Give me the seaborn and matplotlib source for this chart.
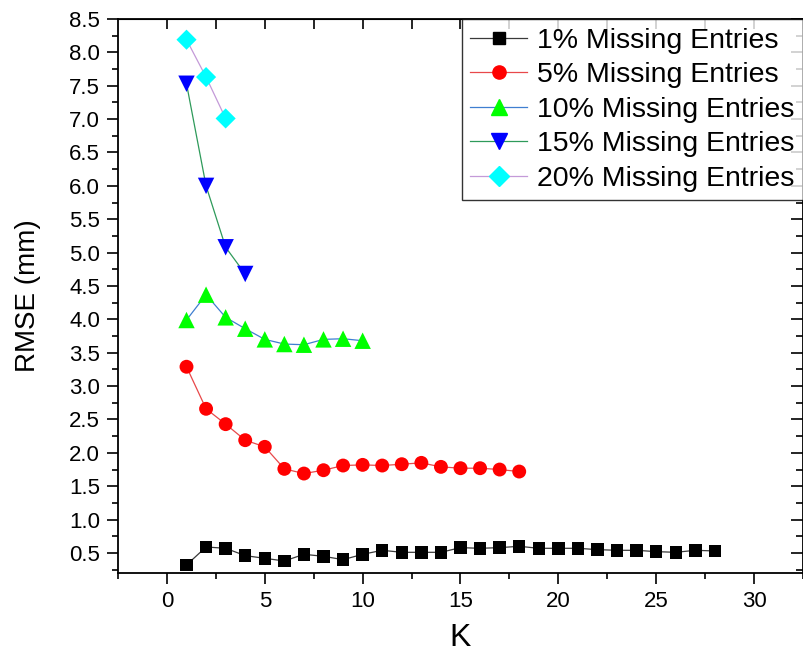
import numpy as np
import pandas as pd
import matplotlib
matplotlib.use("Agg")
import matplotlib.pyplot as plt
from matplotlib.lines import Line2D
import seaborn as sns

# values
k1 = list(range(1, 29))
rmse1 = [0.32, 0.59, 0.57, 0.46, 0.42, 0.38, 0.48, 0.45, 0.40, 0.48, 0.54, 0.51, 0.51, 0.51,
         0.58, 0.57, 0.58, 0.60, 0.57, 0.57, 0.57, 0.55, 0.54, 0.54, 0.52, 0.51, 0.54, 0.53]
k5 = list(range(1, 19))
rmse5 = [3.29, 2.66, 2.43, 2.19, 2.09, 1.76, 1.69, 1.74, 1.81, 1.82, 1.81, 1.83, 1.85, 1.79,
         1.77, 1.77, 1.75, 1.72]
k10 = list(range(1, 11))
rmse10 = [3.99, 4.37, 4.03, 3.86, 3.70, 3.63, 3.62, 3.70, 3.71, 3.68]
k15 = [1, 2, 3, 4]
rmse15 = [7.53, 6.00, 5.08, 4.68]
k20 = [1, 2, 3]
rmse20 = [8.19, 7.63, 7.01]

labels = ["1% Missing Entries", "5% Missing Entries", "10% Missing Entries",
          "15% Missing Entries", "20% Missing Entries"]
line_colors = ["#3a3a3a", "#e8484a", "#3f7fd0", "#2e9a5a", "#c49ad8"]
marker_colors = ["#000000", "#ff0000", "#00ff00", "#0000ff", "#00ffff"]
markers = ["s", "o", "^", "v", "D"]
sizes = [80, 100, 140, 140, 105]

frames = []
for lab, ks, vals in zip(labels, [k1, k5, k10, k15, k20], [rmse1, rmse5, rmse10, rmse15, rmse20]):
    frames.append(pd.DataFrame({"K": ks, "RMSE": vals, "series": lab}))
df = pd.concat(frames, ignore_index=True)

plt.rcParams["font.family"] = ["Liberation Sans", "DejaVu Sans"]

fig = plt.figure(figsize=(8.04, 6.56), dpi=100)
ax = fig.add_axes([118 / 804, 1 - 573 / 656, 685 / 804, 554 / 656])

sns.lineplot(data=df, x="K", y="RMSE", hue="series", hue_order=labels,
             palette=dict(zip(labels, line_colors)), linewidth=0.9, legend=False,
             ax=ax, zorder=2)
sns.scatterplot(data=df, x="K", y="RMSE", hue="series", hue_order=labels,
                palette=dict(zip(labels, marker_colors)), style="series",
                style_order=labels, markers=dict(zip(labels, markers)),
                size="series", sizes=dict(zip(labels, sizes)),
                edgecolor="none", legend=False, ax=ax, zorder=3)

ax.set_xlim(-2.5, 32.5)
ax.set_ylim(0.2, 8.5)
ax.set_xticks(np.arange(0, 31, 5))
ax.set_xticks(np.arange(-2.5, 33, 2.5), minor=True)
ax.set_yticks(np.arange(0.5, 8.51, 0.5))
ax.set_yticks(np.arange(0.25, 8.51, 0.25), minor=True)
ax.yaxis.set_major_formatter(matplotlib.ticker.FormatStrFormatter("%.1f"))
ax.tick_params(axis="both", which="major", direction="out", length=8, width=1.2,
               labelsize=16, pad=5, top=False, right=False)
ax.tick_params(axis="y", which="minor", direction="out", length=4, width=1.2,
               right=False)
ax.tick_params(axis="x", which="minor", direction="out", length=4, width=1.2,
               top=False)
for sp in ax.spines.values():
    sp.set_linewidth(1.3)
    sp.set_color("black")

top = ax.secondary_xaxis("top")
top.set_xticks(np.arange(0, 33, 2.5))
top.tick_params(direction="in", length=7, width=1.2, labeltop=False)
right = ax.secondary_yaxis("right")
right.set_yticks(np.arange(0.5, 8.51, 0.5))
right.set_yticks(np.arange(0.25, 8.51, 0.25), minor=True)
right.tick_params(which="major", direction="in", length=9, width=1.2, labelright=False)
right.tick_params(which="minor", direction="in", length=5, width=1.2)

ax.set_xlabel("K", fontsize=23, labelpad=8)
ax.set_ylabel("RMSE (mm)", fontsize=20, labelpad=20)

handles = [Line2D([], [], color=lc, lw=0.9, marker=m, markerfacecolor=mc,
                  markeredgecolor=mc, markersize=np.sqrt(s) * 0.95)
           for lc, mc, m, s in zip(line_colors, marker_colors, markers, sizes)]
leg = ax.legend(handles, labels, loc="upper right", fontsize=20.5, frameon=True,
                fancybox=False, edgecolor="black", handlelength=2.0,
                handletextpad=0.35, borderpad=0.3, labelspacing=0.3,
                borderaxespad=0.0)
leg.get_frame().set_linewidth(1.0)

fig.savefig("out.png", dpi=100)
